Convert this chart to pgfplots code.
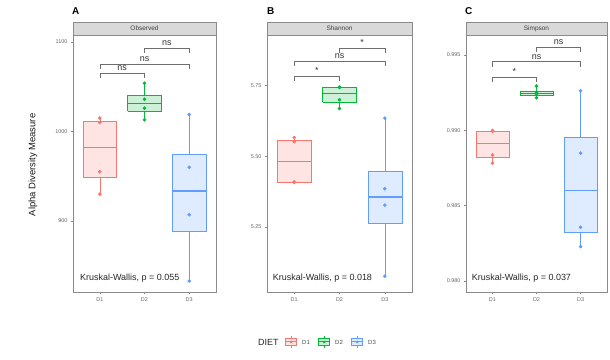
\documentclass[border=0pt]{standalone}
\usepackage{fontspec}
\setmainfont{Liberation Sans}
\usepackage{pgfplots}
\pgfplotsset{compat=1.18}
\definecolor{cR}{HTML}{F8766D}
\definecolor{cG}{HTML}{00BA38}
\definecolor{cB}{HTML}{619CFF}
\definecolor{frm}{HTML}{8A8A8A}
\definecolor{strip}{HTML}{D9D9D9}
\definecolor{brk}{HTML}{6E6E6E}

% box: colour, left, centre, right, lower whisker, Q1, median, Q3, upper whisker
\newcommand{\bx}[9]{%
  \addplot[#1, fill=#1!20, line width=0.6bp, mark=none] coordinates {(#2,#6) (#4,#6) (#4,#8) (#2,#8) (#2,#6)};
  \addplot[#1, line width=1.1bp, mark=none] coordinates {(#2,#7) (#4,#7)};
  \addplot[#1, line width=0.6bp, mark=none] coordinates {(#3,#5) (#3,#6)};
  \addplot[#1, line width=0.6bp, mark=none] coordinates {(#3,#8) (#3,#9)};
}

\tikzset{siglab/.style={anchor=base, yshift=2.5bp, font=\fontsize{9}{10}\selectfont, text=black!80}}
\pgfplotsset{
  panel/.style={
    scale only axis, anchor=south west,
    xmin=0.4, xmax=3.6, xtick={1,2,3}, xticklabels={D1,D2,D3},
    tick align=outside, major tick length=2.5bp,
    xtick pos=bottom, ytick pos=left,
    axis line style={frm, line width=0.5bp},
    every tick/.style={frm, line width=0.5bp},
    tick label style={font=\fontsize{5.5}{6}\selectfont, text=black!60},
    /pgf/number format/assume math mode=true,
    /pgf/number format/1000 sep={},
    xticklabel style={yshift=0.5bp},
    yticklabel style={xshift=0.5bp},
    clip=false,
    height=257bp,
  },
  pts/.style={only marks, mark=*, mark size=1.6bp, mark options={draw=#1, fill=#1}},
  brack/.style={brk, line width=0.5bp, mark=none},
}

\begin{document}
\begin{tikzpicture}

% ---------------- Panel A ----------------
\begin{axis}[panel, at={(73bp,68bp)}, width=143bp,
  ymin=820.7, ymax=1107.8, ytick={900,1000,1100}]
\bx{cR}{0.625}{1}{1.375}{930}{948.75}{982.5}{1011.25}{1015}
\bx{cG}{1.625}{2}{2.375}{1013}{1022.75}{1031}{1040.5}{1054}
\bx{cB}{2.625}{3}{3.375}{833}{888.5}{933.5}{974.75}{1019}
\addplot[pts=cR] coordinates {(1,930) (1,955) (1,1010) (1,1015)};
\addplot[pts=cG] coordinates {(2,1013) (2,1026) (2,1036) (2,1054)};
\addplot[pts=cB] coordinates {(3,833) (3,907) (3,960) (3,1019)};
\addplot[brack] coordinates {(1,1059.6) (1,1065.6) (2,1065.6) (2,1059.6)};
\addplot[brack] coordinates {(1,1069.3) (1,1075.6) (3,1075.6) (3,1069.3)};
\addplot[brack] coordinates {(2,1088) (2,1093.5) (3,1093.5) (3,1088)};
\node[siglab] at (axis cs:1.5,1065.6) {ns};
\node[siglab] at (axis cs:2,1075.6) {ns};
\node[siglab] at (axis cs:2.5,1093.5) {ns};
\end{axis}

% ---------------- Panel B ----------------
\begin{axis}[panel, at={(267bp,68bp)}, width=145bp,
  ymin=5.0206, ymax=5.9275, ytick={5.25,5.5,5.75},
  yticklabel style={/pgf/number format/.cd, fixed, fixed zerofill, precision=2}]
\bx{cR}{0.625}{1}{1.375}{5.407}{5.4085}{5.48}{5.5548}{5.566}
\bx{cG}{1.625}{2}{2.375}{5.668}{5.691}{5.7205}{5.7425}{5.744}
\bx{cB}{2.625}{3}{3.375}{5.076}{5.2643}{5.356}{5.4473}{5.634}
\addplot[pts=cR] coordinates {(1,5.407) (1,5.409) (1,5.551) (1,5.566)};
\addplot[pts=cG] coordinates {(2,5.668) (2,5.699) (2,5.742) (2,5.744)};
\addplot[pts=cB] coordinates {(3,5.076) (3,5.327) (3,5.385) (3,5.634)};
\addplot[brack] coordinates {(1,5.765) (1,5.783) (2,5.783) (2,5.765)};
\addplot[brack] coordinates {(1,5.818) (1,5.836) (3,5.836) (3,5.818)};
\addplot[brack] coordinates {(2,5.865) (2,5.882) (3,5.882) (3,5.865)};
\node[siglab] at (axis cs:1.5,5.783) {*};
\node[siglab] at (axis cs:2,5.836) {ns};
\node[siglab] at (axis cs:2.5,5.882) {*};
\end{axis}

% ---------------- Panel C ----------------
\begin{axis}[panel, at={(466bp,68bp)}, width=141bp,
  ymin=0.97927, ymax=0.99631, ytick={0.98,0.985,0.99,0.995},
  yticklabel style={/pgf/number format/.cd, fixed, fixed zerofill, precision=3}]
\bx{cR}{0.625}{1}{1.375}{0.98781}{0.98822}{0.98914}{0.98994}{0.98998}
\bx{cG}{1.625}{2}{2.375}{0.99215}{0.99234}{0.99245}{0.99261}{0.99292}
\bx{cB}{2.625}{3}{3.375}{0.98228}{0.98324}{0.98602}{0.98951}{0.99261}
\addplot[pts=cR] coordinates {(1,0.98781) (1,0.98835) (1,0.98993) (1,0.98998)};
\addplot[pts=cG] coordinates {(2,0.99215) (2,0.99240) (2,0.99250) (2,0.99292)};
\addplot[pts=cB] coordinates {(3,0.98228) (3,0.98356) (3,0.98848) (3,0.99261)};
\addplot[brack] coordinates {(1,0.99318) (1,0.99351) (2,0.99351) (2,0.99318)};
\addplot[brack] coordinates {(1,0.99421) (1,0.99454) (3,0.99454) (3,0.99421)};
\addplot[brack] coordinates {(2,0.99517) (2,0.99550) (3,0.99550) (3,0.99517)};
\node[siglab] at (axis cs:1.5,0.99351) {*};
\node[siglab] at (axis cs:2,0.99454) {ns};
\node[siglab] at (axis cs:2.5,0.99550) {ns};
\end{axis}

% ---------------- Strips ----------------
\foreach \xa/\xb/\t in {73/216/Observed, 267/412/Shannon, 466/607/Simpson}{
  \draw[frm, fill=strip, line width=0.5bp] (\xa bp,325bp) rectangle (\xb bp,338bp);
  \node[font=\fontsize{6.5}{7}\selectfont, text=black!75] at ({(\xa+\xb)/2*1bp},331.5bp) {\t};
}

% ---------------- Annotations ----------------
\node[anchor=west, font=\fontsize{9}{10}\selectfont, text=black!85, inner sep=0] at (80bp,82.3bp) {Kruskal-Wallis, p = 0.055};
\node[anchor=west, font=\fontsize{9}{10}\selectfont, text=black!85, inner sep=0] at (272.7bp,82.3bp) {Kruskal-Wallis, p = 0.018};
\node[anchor=west, font=\fontsize{9}{10}\selectfont, text=black!85, inner sep=0] at (471.7bp,82.3bp) {Kruskal-Wallis, p = 0.037};

\node[rotate=90, font=\fontsize{9.5}{10}\selectfont, text=black!90] at (33bp,195bp) {Alpha Diversity Measure};

\node[anchor=west, inner sep=0, font=\bfseries\fontsize{10}{11}\selectfont] at (72bp,348.5bp) {A};
\node[anchor=west, inner sep=0, font=\bfseries\fontsize{10}{11}\selectfont] at (267bp,348.5bp) {B};
\node[anchor=west, inner sep=0, font=\bfseries\fontsize{10}{11}\selectfont] at (465bp,348.5bp) {C};

% legend
\node[anchor=west, inner sep=0, font=\fontsize{9}{10}\selectfont, text=black!85] at (258bp,18bp) {DIET};
\foreach \c/\x/\l in {cR/291/D1, cG/324/D2, cB/357/D3}{
  \draw[\c, line width=0.6bp] (\x bp,12bp) -- (\x bp,24bp);
  \draw[\c, fill=\c!20, line width=0.6bp] (\x bp-5.5bp,14.5bp) rectangle (\x bp+5.5bp,21.5bp);
  \draw[\c, line width=1bp] (\x bp-5.5bp,18bp) -- (\x bp+5.5bp,18bp);
  \fill[\c] (\x bp,18bp) circle (1.5bp);
  \node[anchor=west, inner sep=0, font=\fontsize{6}{7}\selectfont, text=black!70] at (\x bp+11bp,18bp) {\l};
}
\useasboundingbox (0,0) rectangle (610bp,360bp);
\end{tikzpicture}
\end{document}
